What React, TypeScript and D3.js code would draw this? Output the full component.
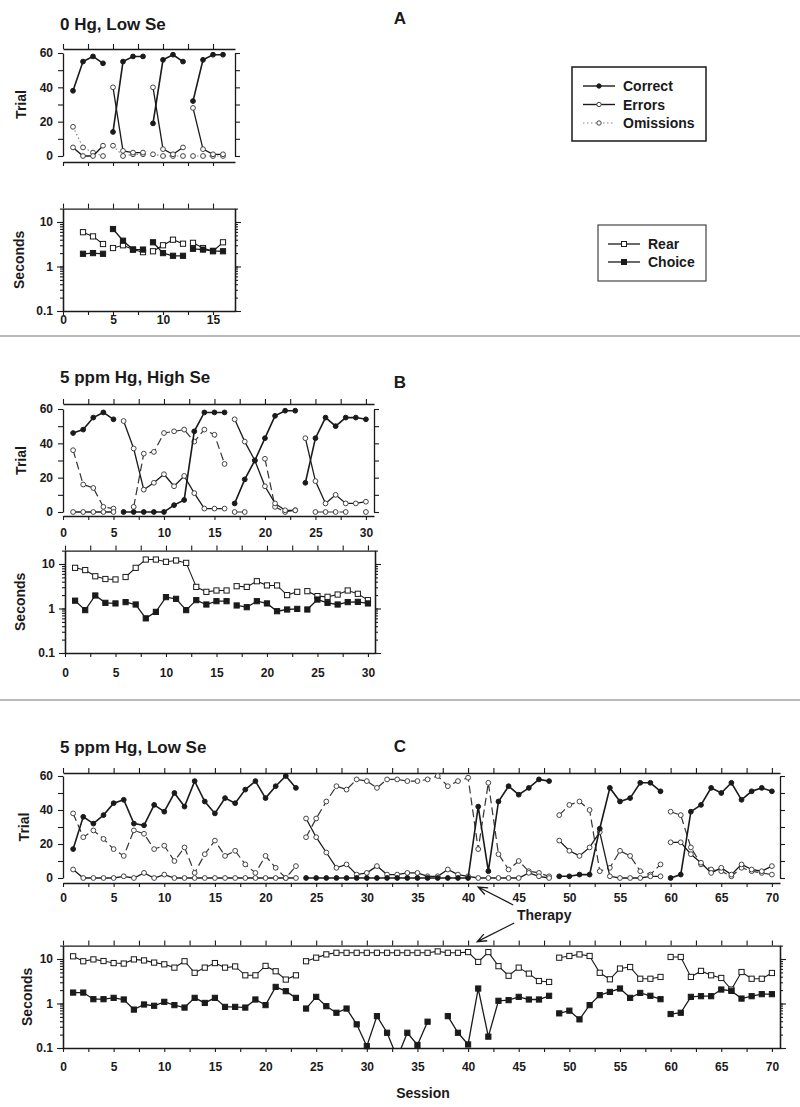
import React, { useEffect, useRef } from "react";
import * as d3 from "d3";

const FONT = "'Liberation Sans', Arial, Helvetica, sans-serif";
const INK = "#1a1a1a";

// ---- Panel A: 0 Hg, Low Se ----
const aTrialStarts = [1, 5, 9, 13];
const aCorrect = [[38, 55, 58, 54], [14, 55, 58, 58], [19, 56, 59, 55], [32, 56, 59, 59]];
const aErrors = [[5, 0, 0, 6], [40, 3, 2, 2], [40, 4, 1, 5], [28, 4, 1, 1]];
const aOmissions = [[17, 5, 2, 0], [6, 0, 1, 1], [1, 0, 0, 0], [0, 0, 0, 0]];
const aSecStarts = [2, 5, 9, 13];
const aRear = [[5.9, 4.75, 3.2], [2.6, 3.0, 2.4, 2.1], [2.2, 3.0, 4.0, 3.25], [3.4, 2.6, 2.2, 3.5]];
const aChoice = [[1.93, 2.0, 1.93], [6.95, 3.8, 2.4, 2.4], [3.5, 2.0, 1.74, 1.74], [2.5, 2.4, 2.25, 2.2]];

// ---- Panel B: 5 ppm Hg, High Se ----
const bTrialStarts = [1, 6, 17, 24];
const bCorrect = [
  [46, 48, 55, 58, 54],
  [0, 0, 0, 0, 0, 4, 7, 47, 58, 58, 58],
  [5, 19, 30, 43, 56, 59, 59],
  [17, 43, 55, 50, 55, 55, 54],
];
const bErrors = [
  [0, 0, 0, 0, 0],
  [53, 37, 13, 17, 22, 15, 21, 11, 2, 2, 2],
  [54, 41, 30, 15, 5, 1, 1],
  [43, 18, 5, 10, 5, 5, 6],
];
const bOmissions = [
  [36, 16, 14, 3, 2],
  [null, 3, 34, 35, 46, 47, 48, 41, 48, 45, 28],
  [0, 0, null, 31, 3, 0, 1],
  [null, 0, 0, 0, 0, null, 0],
];
const bSecStarts = [1, 6, 17, 24];
const bRear = [
  [8.2, 7.3, 5.3, 4.6, 4.5],
  [5.1, 8.2, 12.6, 12.6, 11.2, 12, 10.6, 3.06, 2.37, 2.54, 2.54],
  [3.17, 3.06, 4.1, 3.3, 3.3, 2.0, 2.37],
  [2.45, 1.9, 1.83, 2.06, 2.54, 2.14, 1.54],
];
const bChoice = [
  [1.5, 0.92, 1.96, 1.34, 1.3],
  [1.39, 1.23, 0.6, 0.84, 1.8, 1.65, 0.92, 1.54, 1.23, 1.46, 1.46],
  [1.17, 1.07, 1.46, 1.3, 0.87, 0.95, 0.98],
  [0.95, 1.59, 1.34, 1.23, 1.39, 1.41, 1.3],
];

// ---- Panel C: 5 ppm Hg, Low Se ----
const cTrialStarts = [1, 24, 49, 60];
const cCorrect = [
  [17, 36, 32, 37, 44, 46, 32, 31, 43, 39, 50, 42, 57, 45, 38, 47, 44, 52, 57, 47, 54, 60, 53],
  [0, 0, 0, 0, 0, 0, 0, 0, 0, 0, 0, 0, 0, 0, 0, 0, 0, 42, 4, 45, 54, 49, 53, 58, 57],
  [1, 1, 2, 2, 29, 53, 45, 47, 56, 56, 51],
  [0, 2, 39, 43, 53, 50, 56, 46, 51, 53, 51],
];
const cErrors = [
  [5, 0, 0, 0, 0, 1, 0, 3, 0, 2, 0, 0, 0, 0, 0, 0, 0, 0, 0, 0, 0, 0, 0],
  [35, 24, 15, 6, 8, 2, 3, 7, 2, 2, 3, 3, 1, 1, 5, 2, 1, 0, 0, 0, 0, 0, 3, 1, 0],
  [22, 16, 13, 18, 27, 1, 0, 0, 0, 1, 1],
  [21, 21, 14, 9, 3, 6, 2, 8, 5, 4, 7],
];
const cOmissions = [
  [38, 24, 28, 23, 17, 13, 28, 26, 17, 19, 10, 18, 3, 14, 22, 13, 16, 8, 3, 13, 6, 0, 7],
  [24, 35, 45, 54, 52, 58, 57, 53, 58, 58, 57, 57, 58, 60, 54, 57, 59, 17, 56, 14, 5, 10, 4, 3, 1],
  [37, 43, 45, 40, 4, 6, 16, 13, 4, 2, 8],
  [39, 37, 18, 8, 5, 4, 1, 6, 4, 3, 2],
];
const cSecStarts = [1, 24, 49, 60];
const cRear = [
  [11.5, 8.9, 9.8, 9.0, 8.1, 7.9, 9.8, 9.3, 8.3, 7.6, 6.4, 8.9, 4.9, 6.4, 8.1, 6.4, 6.8, 4.3, 4.3, 7.0, 5.3, 3.45, 4.3],
  [8.9, 10.7, 12.7, 13.8, 13.8, 13.8, 13.8, 13.8, 13.8, 13.8, 13.8, 13.8, 13.8, 14.8, 13.8, 13.8, 14.3, 8.6, 14.3, 6.9, 4.2, 6.4, 4.7, 3.2, 3.05],
  [10.7, 11.7, 12.7, 11.7, 4.9, 3.5, 6.1, 6.6, 3.6, 3.6, 3.95],
  [11.1, 11.1, 3.95, 5.4, 4.3, 3.75, 2.06, 5.1, 3.6, 3.6, 4.85],
];
const cChoice = [
  [1.76, 1.76, 1.25, 1.25, 1.34, 1.23, 0.73, 0.95, 0.89, 1.09, 0.92, 0.81, 1.34, 1.03, 1.34, 0.84, 0.84, 0.81, 1.23, 0.92, 2.36, 1.89, 1.34],
  [0.77, 1.41, 0.87, 0.62, 0.77, 0.34, 0.11, 0.52, 0.22, 0.06, 0.22, 0.117, 0.39, null, 0.52, 0.22, 0.12, 2.17, 0.18, 1.15, 1.19, 1.41, 1.23, 1.23, 1.49],
  [0.6, 0.69, 0.44, 0.92, 1.54, 1.82, 2.17, 1.34, 1.73, 1.49, 1.25],
  [0.58, 0.62, 1.41, 1.46, 1.46, 2.06, 1.92, 1.29, 1.46, 1.62, 1.62],
];

const trialLegend = ["Correct", "Errors", "Omissions"];
const secLegend = ["Rear", "Choice"];

type Pt = { s: number; v: number | null };

const toSegs = (starts: number[], vals: (number | null)[][]): Pt[][] =>
  vals.map((arr, i) => arr.map((v, j) => ({ s: starts[i] + j, v })));

function styleAxis(sel) {
  sel.attr("font-family", FONT).attr("font-size", 12).attr("font-weight", "bold");
  sel.select(".domain").attr("stroke", INK).attr("stroke-width", 1.3);
  sel.selectAll(".tick line").attr("stroke", INK).attr("stroke-width", 1.1);
  sel.selectAll(".tick text").attr("fill", INK);
}

function drawMarkers(g, pts: Pt[], x, y, kind, stroke) {
  const ok = pts.filter((d) => d.v != null);
  if (kind === "fcircle" || kind === "ocircle") {
    g.selectAll(null)
      .data(ok)
      .enter()
      .append("circle")
      .attr("cx", (d) => x(d.s))
      .attr("cy", (d) => y(d.v))
      .attr("r", 2.4)
      .attr("fill", kind === "fcircle" ? INK : "#fff")
      .attr("stroke", stroke)
      .attr("stroke-width", 1);
  } else {
    g.selectAll(null)
      .data(ok)
      .enter()
      .append("rect")
      .attr("x", (d) => x(d.s) - 2.6)
      .attr("y", (d) => y(d.v) - 2.6)
      .attr("width", 5.2)
      .attr("height", 5.2)
      .attr("fill", kind === "fsquare" ? INK : "#fff")
      .attr("stroke", INK)
      .attr("stroke-width", 1);
  }
}

function drawTrial(svg, c) {
  const x = d3.scaleLinear().domain([0, c.xMax]).range([c.x0, c.x1]);
  const y = d3.scaleLinear().domain([0, 60]).range([c.y0, c.y60]);
  const xt = d3.range(0, c.xMax, 2.5);
  const yt = d3.range(0, 61, 10);

  svg.append("g").attr("transform", `translate(${c.x0},0)`)
    .call(d3.axisLeft(y).tickValues(yt).tickSize(5).tickSizeOuter(0).tickPadding(5)
      .tickFormat((d) => (+d % 20 === 0 ? String(d) : "")))
    .call(styleAxis);
  svg.append("g").attr("transform", `translate(${c.x1},0)`)
    .call(d3.axisRight(y).tickValues(yt).tickSize(5).tickSizeOuter(0).tickFormat(() => ""))
    .call(styleAxis);
  svg.append("g").attr("transform", `translate(0,${c.topAxis})`)
    .call(d3.axisTop(x).tickValues(xt).tickSize(5).tickSizeOuter(0).tickFormat(() => ""))
    .call(styleAxis);
  svg.append("g").attr("transform", `translate(0,${c.botAxis})`)
    .call(d3.axisBottom(x).tickValues(xt).tickSize(4).tickSizeOuter(0).tickPadding(c.pad)
      .tickFormat((d) => (c.xLabels && +d % 5 === 0 ? String(d) : "")))
    .call(styleAxis);

  const line = d3.line<Pt>().defined((d) => d.v != null).x((d) => x(d.s)).y((d) => y(d.v as number));

  const series = [
    { segs: toSegs(c.starts, c.omissions), dash: c.omDash, stroke: c.omStroke, w: 1.2, m: "ocircle" },
    { segs: toSegs(c.starts, c.errors), dash: null, stroke: INK, w: 1.3, m: "ocircle" },
    { segs: toSegs(c.starts, c.correct), dash: null, stroke: INK, w: 1.6, m: "fcircle" },
  ];
  series.forEach((sr) => {
    const g = svg.append("g");
    sr.segs.forEach((seg) => {
      g.append("path")
        .attr("d", line(seg))
        .attr("fill", "none")
        .attr("stroke", sr.stroke)
        .attr("stroke-width", sr.w)
        .attr("stroke-dasharray", sr.dash);
      drawMarkers(g, seg, x, y, sr.m, sr.m === "ocircle" ? "#444" : INK);
    });
  });

  svg.append("text")
    .attr("transform", `translate(${c.titleX},${(c.y0 + c.y60) / 2}) rotate(-90)`)
    .attr("text-anchor", "middle")
    .attr("font-family", FONT).attr("font-size", 14).attr("font-weight", "bold").attr("fill", INK)
    .text("Trial");
  return x;
}

function drawSeconds(svg, c) {
  const x = d3.scaleLinear().domain([0, c.xMax]).range([c.x0, c.x1]);
  const dec = (c.y01 - c.y10) / 2;
  const y = d3.scaleLog().domain([0.1, 20]).range([c.y01, c.y01 - dec * Math.log10(200)]);
  const yTop = y(20);
  const xt = d3.range(0, c.xMax, 2.5);
  const minor = y.ticks();
  const major = [0.1, 1, 10];

  svg.append("g").attr("transform", `translate(${c.x0},0)`)
    .call(d3.axisLeft(y).tickValues(minor).tickSize(3).tickSizeOuter(0).tickFormat(() => ""))
    .call(styleAxis);
  svg.append("g").attr("transform", `translate(${c.x0},0)`)
    .call(d3.axisLeft(y).tickValues(major).tickSize(6).tickSizeOuter(0).tickPadding(4)
      .tickFormat((d) => (+d < 1 ? "0.1" : String(d))))
    .call(styleAxis);
  svg.append("g").attr("transform", `translate(${c.x1},0)`)
    .call(d3.axisRight(y).tickValues(minor).tickSize(3).tickSizeOuter(0).tickFormat(() => ""))
    .call(styleAxis);
  svg.append("g").attr("transform", `translate(${c.x1},0)`)
    .call(d3.axisRight(y).tickValues(major).tickSize(6).tickSizeOuter(0).tickFormat(() => ""))
    .call(styleAxis);
  svg.append("g").attr("transform", `translate(0,${yTop})`)
    .call(d3.axisTop(x).tickValues(xt).tickSize(5).tickSizeOuter(0).tickFormat(() => ""))
    .call(styleAxis);
  svg.append("g").attr("transform", `translate(0,${c.y01})`)
    .call(d3.axisBottom(x).tickValues(xt).tickSize(4).tickSizeOuter(0).tickPadding(c.pad)
      .tickFormat((d) => (+d % 5 === 0 ? String(d) : "")))
    .call(styleAxis);

  const clipId = `clip-${c.id}`;
  svg.append("clipPath").attr("id", clipId)
    .append("rect")
    .attr("x", c.x0).attr("y", yTop).attr("width", c.x1 - c.x0).attr("height", c.y01 - yTop);

  const line = d3.line<Pt>().defined((d) => d.v != null).x((d) => x(d.s)).y((d) => y(d.v as number));
  const series = [
    { segs: toSegs(c.starts, c.rear), w: 1.1, m: "osquare" },
    { segs: toSegs(c.starts, c.choice), w: 1.3, m: "fsquare" },
  ];
  series.forEach((sr) => {
    const g = svg.append("g");
    sr.segs.forEach((seg) => {
      g.append("path")
        .attr("d", line(seg))
        .attr("clip-path", `url(#${clipId})`)
        .attr("fill", "none")
        .attr("stroke", INK)
        .attr("stroke-width", sr.w);
      drawMarkers(g, seg.filter((d) => d.v == null || d.v >= 0.1), x, y, sr.m, INK);
    });
  });

  svg.append("text")
    .attr("transform", `translate(${c.titleX},${(c.y01 + yTop) / 2}) rotate(-90)`)
    .attr("text-anchor", "middle")
    .attr("font-family", FONT).attr("font-size", 14).attr("font-weight", "bold").attr("fill", INK)
    .text("Seconds");
  return { x, yTop };
}

function label(svg, x, y, text, size, anchor = "start") {
  svg.append("text")
    .attr("x", x).attr("y", y)
    .attr("text-anchor", anchor)
    .attr("font-family", FONT).attr("font-size", size).attr("font-weight", "bold").attr("fill", INK)
    .text(text);
}

function arrow(svg, tail, tip) {
  const ang = Math.atan2(tail[1] - tip[1], tail[0] - tip[0]);
  const L = 10;
  const a1 = ang + 0.38;
  const a2 = ang - 0.38;
  svg.append("path")
    .attr("d",
      `M${tail[0]},${tail[1]}L${tip[0]},${tip[1]}` +
      `M${tip[0] + L * Math.cos(a1)},${tip[1] + L * Math.sin(a1)}L${tip[0]},${tip[1]}` +
      `L${tip[0] + L * Math.cos(a2)},${tip[1] + L * Math.sin(a2)}`)
    .attr("fill", "none").attr("stroke", INK).attr("stroke-width", 1.3);
}

export default function App() {
  const ref = useRef<SVGSVGElement>(null);

  useEffect(() => {
    const svg = d3.select(ref.current);
    svg.selectAll("*").remove();

    // separators
    [336, 700].forEach((yy) => {
      svg.append("line").attr("x1", 0).attr("x2", 800).attr("y1", yy).attr("y2", yy)
        .attr("stroke", "#777").attr("stroke-width", 1.2);
    });

    // ---- A ----
    label(svg, 400, 24, "A", 17, "middle");
    label(svg, 60, 30, "0 Hg, Low Se", 17);
    drawTrial(svg, {
      x0: 63, x1: 235, xMax: 17.2, y0: 156, y60: 53, topAxis: 49, botAxis: 162, pad: 4,
      xLabels: false, starts: aTrialStarts, correct: aCorrect, errors: aErrors, omissions: aOmissions,
      omDash: "1.5,2.5", omStroke: "#8a8a8a", titleX: 26,
    });
    drawSeconds(svg, {
      id: "a", x0: 63, x1: 235, xMax: 17.2, y10: 222, y01: 311, pad: 0,
      starts: aSecStarts, rear: aRear, choice: aChoice, titleX: 24,
    });

    // legends
    const lg = svg.append("g");
    lg.append("rect").attr("x", 572).attr("y", 67).attr("width", 134).attr("height", 74)
      .attr("fill", "none").attr("stroke", INK).attr("stroke-width", 1.5);
    trialLegend.forEach((name, i) => {
      const yy = 86 + i * 18.5;
      const om = i === 2;
      lg.append("line").attr("x1", 583).attr("x2", 615).attr("y1", yy).attr("y2", yy)
        .attr("stroke", om ? "#8a8a8a" : INK).attr("stroke-width", om ? 1.2 : 1.4)
        .attr("stroke-dasharray", om ? "1.5,2.5" : null);
      lg.append("circle").attr("cx", 599).attr("cy", yy).attr("r", 2.2)
        .attr("fill", i === 0 ? INK : "#fff").attr("stroke", i === 0 ? INK : "#444");
      label(lg, 623, yy + 5, name, 14);
    });
    lg.append("rect").attr("x", 598).attr("y", 225).attr("width", 108).attr("height", 56)
      .attr("fill", "none").attr("stroke", "#444").attr("stroke-width", 1.2);
    secLegend.forEach((name, i) => {
      const yy = 244 + i * 18;
      lg.append("line").attr("x1", 608).attr("x2", 640).attr("y1", yy).attr("y2", yy)
        .attr("stroke", INK).attr("stroke-width", 1.3);
      lg.append("rect").attr("x", 621.5).attr("y", yy - 2.5).attr("width", 5).attr("height", 5)
        .attr("fill", i === 0 ? "#fff" : INK).attr("stroke", INK);
      label(lg, 648, yy + 5, name, 14);
    });

    // ---- B ----
    label(svg, 400, 388, "B", 17, "middle");
    label(svg, 60, 383, "5 ppm Hg, High Se", 17);
    drawTrial(svg, {
      x0: 63, x1: 374, xMax: 30.8, y0: 512, y60: 409, topAxis: 404, botAxis: 516, pad: 8,
      xLabels: true, starts: bTrialStarts, correct: bCorrect, errors: bErrors, omissions: bOmissions,
      omDash: "8,4", omStroke: "#333", titleX: 26,
    });
    drawSeconds(svg, {
      id: "b", x0: 65, x1: 375, xMax: 30.7, y10: 564, y01: 653, pad: 11,
      starts: bSecStarts, rear: bRear, choice: bChoice, titleX: 25,
    });

    // ---- C ----
    label(svg, 400, 752, "C", 17, "middle");
    label(svg, 60, 753, "5 ppm Hg, Low Se", 17);
    const xC = drawTrial(svg, {
      x0: 63, x1: 780, xMax: 70.8, y0: 878, y60: 776, topAxis: 773, botAxis: 883, pad: 6,
      xLabels: true, starts: cTrialStarts, correct: cCorrect, errors: cErrors, omissions: cOmissions,
      omDash: "8,4", omStroke: "#333", titleX: 29,
    });
    const sc = drawSeconds(svg, {
      id: "c", x0: 63, x1: 780, xMax: 70.8, y10: 959, y01: 1048, pad: 10,
      starts: cSecStarts, rear: cRear, choice: cChoice, titleX: 32,
    });

    // therapy annotation
    const tx = xC(41);
    arrow(svg, [tx + 35, 905], [tx, 887]);
    arrow(svg, [tx + 36, 923], [tx - 1, sc.yTop - 4]);
    label(svg, 517, 920, "Therapy", 14);
    label(svg, 423, 1098, "Session", 14, "middle");
  }, []);

  return (
    <svg
      ref={ref}
      width={800}
      height={1107}
      style={{ position: "absolute", left: 0, top: 0, background: "#fff" }}
    />
  );
}
